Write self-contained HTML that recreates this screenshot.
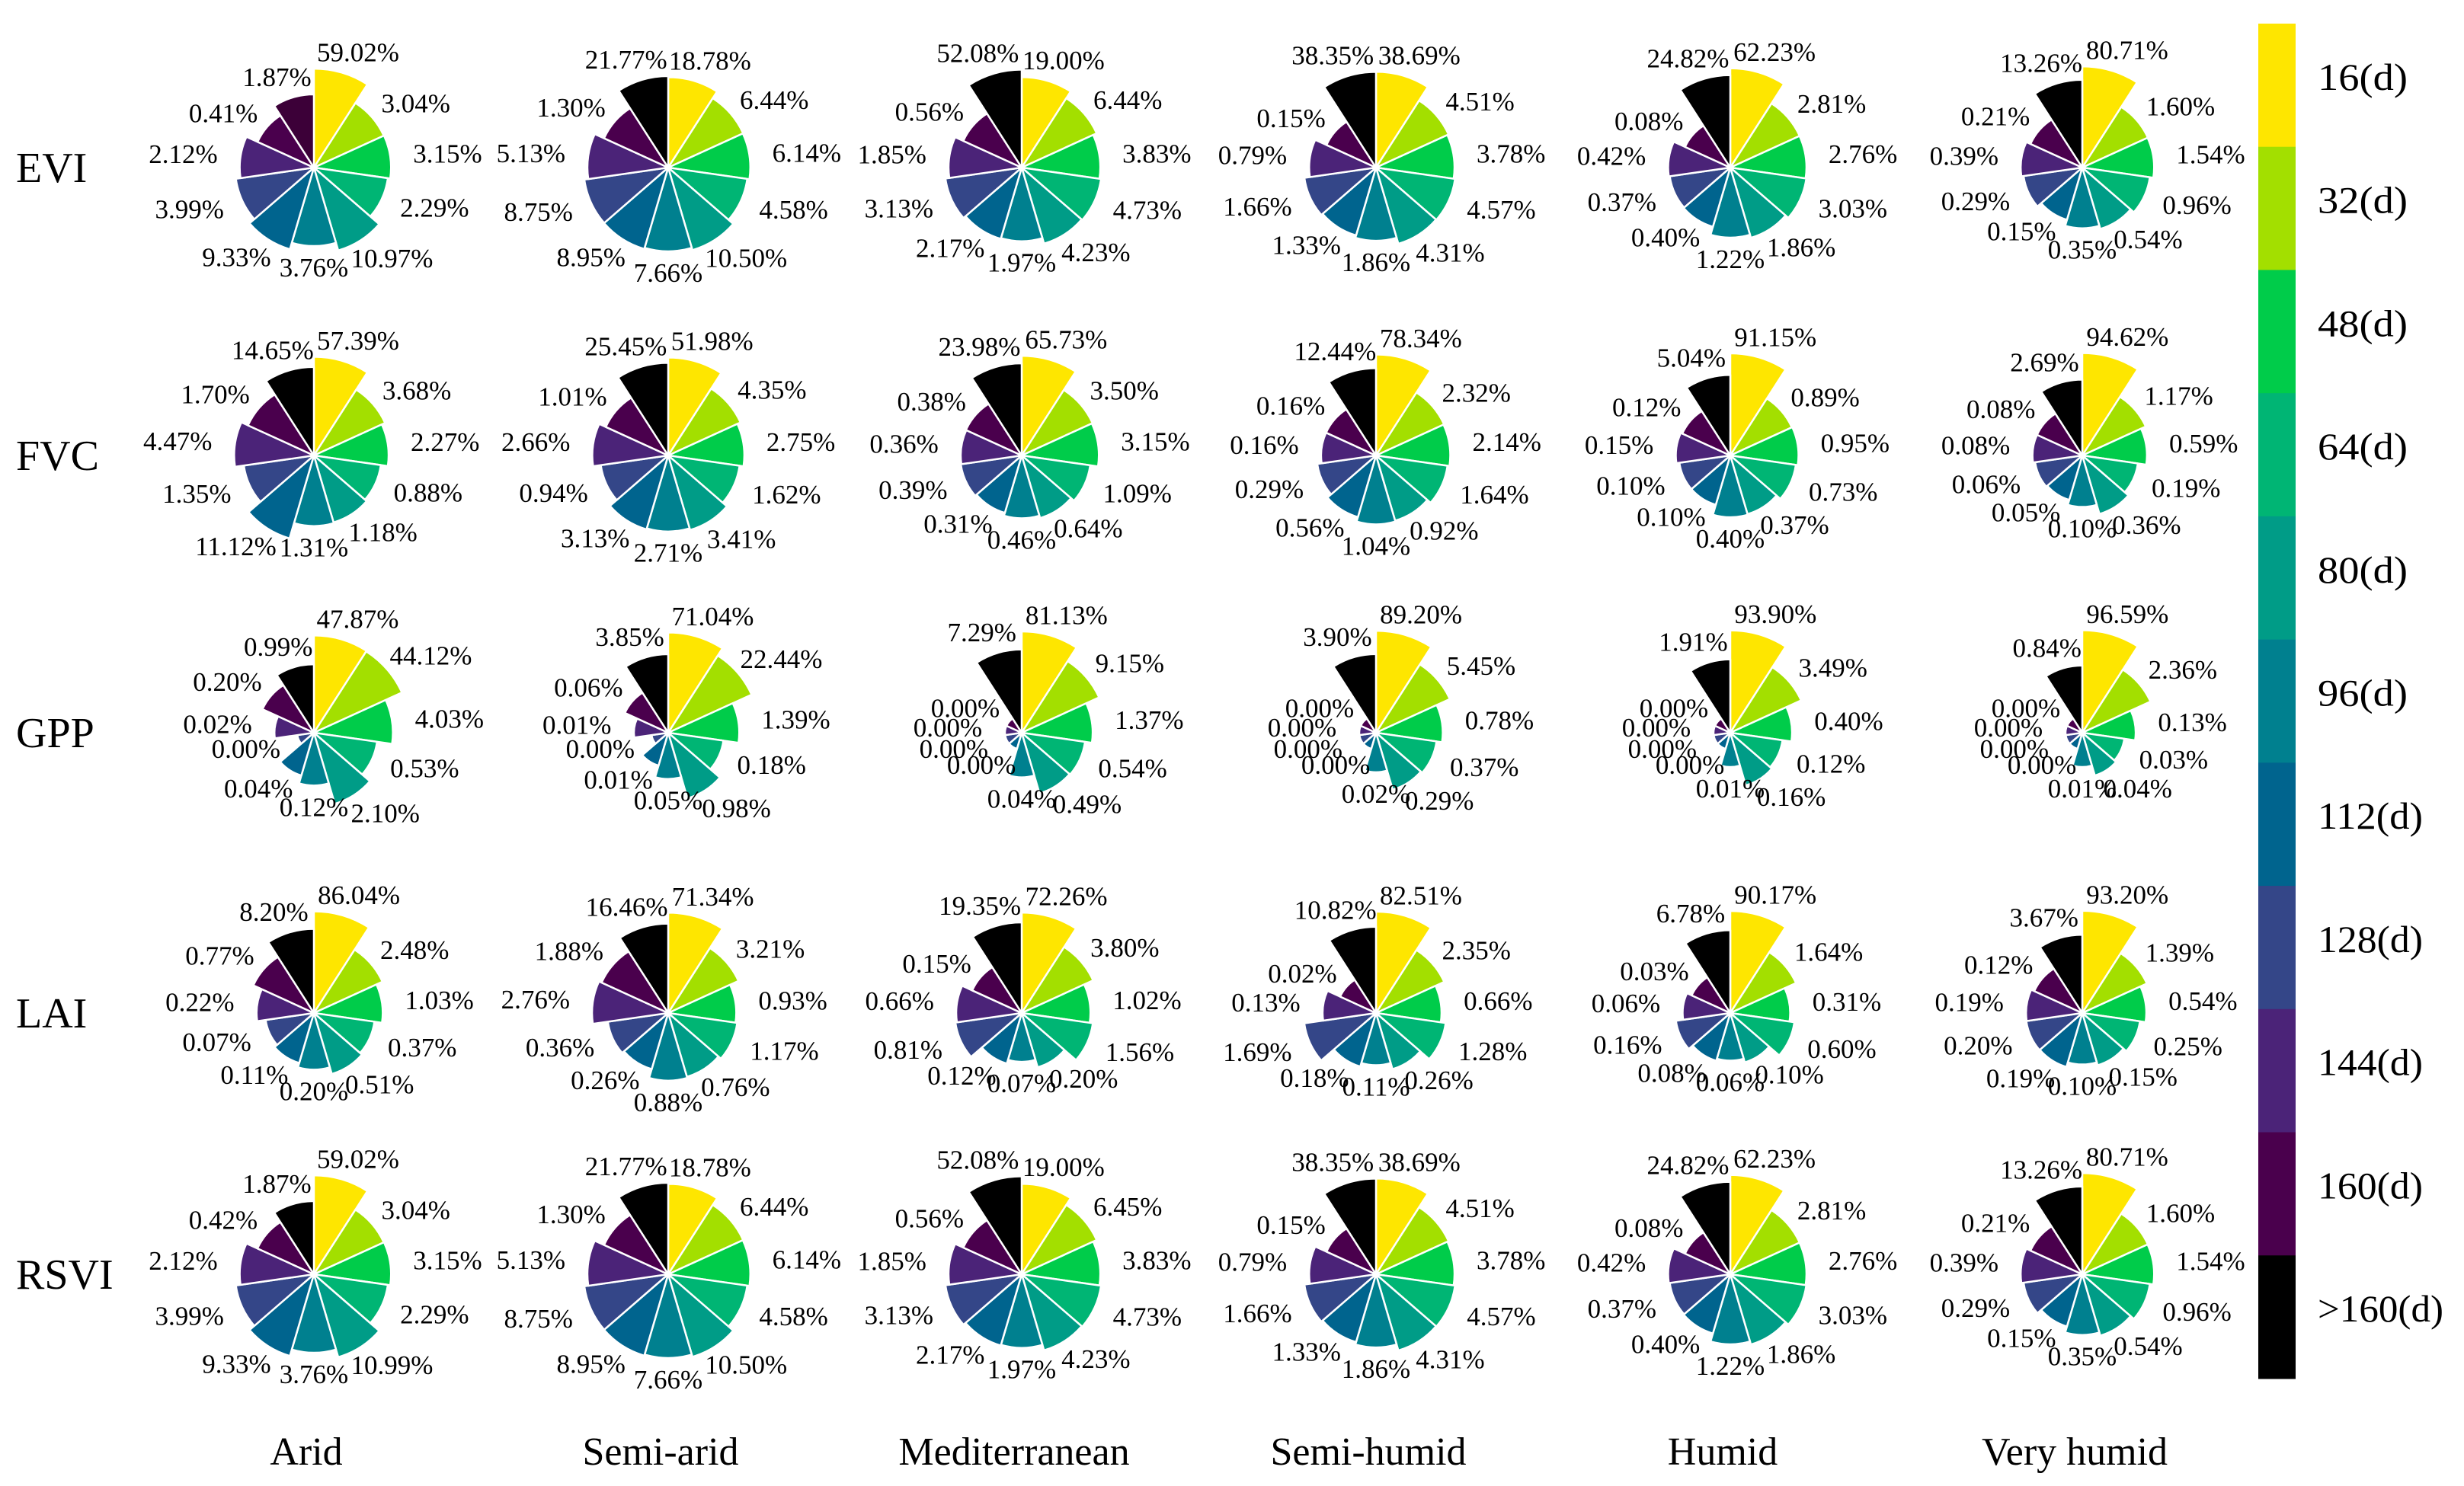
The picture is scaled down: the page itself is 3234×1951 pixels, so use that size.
<!DOCTYPE html>
<html><head><meta charset="utf-8"><style>
html,body{margin:0;padding:0;background:#fff;}
svg{display:block;}
text{font-family:"Liberation Serif",serif;fill:#000;}
</style></head><body>
<svg id="chart" width="3234" height="1951" viewBox="0 0 3234 1951" xmlns="http://www.w3.org/2000/svg"></svg>
<script>
const rowNames = ['EVI','FVC','GPP','LAI','RSVI'];
const colNames = ['Arid','Semi-arid','Mediterranean','Semi-humid','Humid','Very humid'];
const legendLabels = ['16(d)','32(d)','48(d)','64(d)','80(d)','96(d)','112(d)','128(d)','144(d)','160(d)','>160(d)'];
const eviValues = [
 [59.02,3.04,3.15,2.29,10.97,3.76,9.33,3.99,2.12,0.41,1.87],
 [18.78,6.44,6.14,4.58,10.50,7.66,8.95,8.75,5.13,1.30,21.77],
 [19.00,6.44,3.83,4.73,4.23,1.97,2.17,3.13,1.85,0.56,52.08],
 [38.69,4.51,3.78,4.57,4.31,1.86,1.33,1.66,0.79,0.15,38.35],
 [62.23,2.81,2.76,3.03,1.86,1.22,0.40,0.37,0.42,0.08,24.82],
 [80.71,1.60,1.54,0.96,0.54,0.35,0.15,0.29,0.39,0.21,13.26]];
const fvcValues = [
 [57.39,3.68,2.27,0.88,1.18,1.31,11.12,1.35,4.47,1.70,14.65],
 [51.98,4.35,2.75,1.62,3.41,2.71,3.13,0.94,2.66,1.01,25.45],
 [65.73,3.50,3.15,1.09,0.64,0.46,0.31,0.39,0.36,0.38,23.98],
 [78.34,2.32,2.14,1.64,0.92,1.04,0.56,0.29,0.16,0.16,12.44],
 [91.15,0.89,0.95,0.73,0.37,0.40,0.10,0.10,0.15,0.12,5.04],
 [94.62,1.17,0.59,0.19,0.36,0.10,0.05,0.06,0.08,0.08,2.69]];
const gppValues = [
 [47.87,44.12,4.03,0.53,2.10,0.12,0.04,0.00,0.02,0.20,0.99],
 [71.04,22.44,1.39,0.18,0.98,0.05,0.01,0.00,0.01,0.06,3.85],
 [81.13,9.15,1.37,0.54,0.49,0.04,0.00,0.00,0.00,0.00,7.29],
 [89.20,5.45,0.78,0.37,0.29,0.02,0.00,0.00,0.00,0.00,3.90],
 [93.90,3.49,0.40,0.12,0.16,0.01,0.00,0.00,0.00,0.00,1.91],
 [96.59,2.36,0.13,0.03,0.04,0.01,0.00,0.00,0.00,0.00,0.84]];
const laiValues = [
 [86.04,2.48,1.03,0.37,0.51,0.20,0.11,0.07,0.22,0.77,8.20],
 [71.34,3.21,0.93,1.17,0.76,0.88,0.26,0.36,2.76,1.88,16.46],
 [72.26,3.80,1.02,1.56,0.20,0.07,0.12,0.81,0.66,0.15,19.35],
 [82.51,2.35,0.66,1.28,0.26,0.11,0.18,1.69,0.13,0.02,10.82],
 [90.17,1.64,0.31,0.60,0.10,0.06,0.08,0.16,0.06,0.03,6.78],
 [93.20,1.39,0.54,0.25,0.15,0.10,0.19,0.20,0.19,0.12,3.67]];
const rsviValues = [
 [59.02,3.04,3.15,2.29,10.99,3.76,9.33,3.99,2.12,0.42,1.87],
 [18.78,6.44,6.14,4.58,10.50,7.66,8.95,8.75,5.13,1.30,21.77],
 [19.00,6.45,3.83,4.73,4.23,1.97,2.17,3.13,1.85,0.56,52.08],
 [38.69,4.51,3.78,4.57,4.31,1.86,1.33,1.66,0.79,0.15,38.35],
 [62.23,2.81,2.76,3.03,1.86,1.22,0.40,0.37,0.42,0.08,24.82],
 [80.71,1.60,1.54,0.96,0.54,0.35,0.15,0.29,0.39,0.21,13.26]];
const allValues = [eviValues,fvcValues,gppValues,laiValues,rsviValues];
const colors = ['#fee600','#a3df00','#00cc4a','#00b574','#009c87','#00808f','#00648e','#344688','#4b2378','#4a004d','#000000'];

const svg = document.getElementById('chart');
const NS = 'http://www.w3.org/2000/svg';
const colX = [412,877,1341,1806,2271,2733];
const rowY = [220,598,962,1330,1673];
function rScale(v){ return v <= 0 ? 22 : Math.max(18, 90 + 22.5*Math.log10(v)); }
function mk(tag, attrs){ const e = document.createElementNS(NS, tag); for (const k in attrs) e.setAttribute(k, attrs[k]); return e; }
const N = 11, step = 2*Math.PI/N;

rowNames.forEach((rn, ri) => {
  const t = mk('text', {x: 21, y: rowY[ri] + 19, 'font-size': 56});
  t.textContent = rn;
  
  
  svg.appendChild(t);
  colNames.forEach((cn, ci) => {
    const cx = colX[ci], cy = rowY[ri];
    const g = mk('g', {});
    
    
    svg.appendChild(g);
    const vals = allValues[ri][ci];
    vals.forEach((v, i) => {
      const r = rScale(v);
      const a0 = i*step, a1 = (i+1)*step;
      const x0 = cx + r*Math.sin(a0), y0 = cy - r*Math.cos(a0);
      const x1 = cx + r*Math.sin(a1), y1 = cy - r*Math.cos(a1);
      let col = colors[i];
      if (ri === 0 && ci === 0 && i === 10) col = '#3c0038';
      const p = mk('path', {d: `M${cx},${cy} L${x0},${y0} A${r},${r} 0 0 1 ${x1},${y1} Z`, fill: col, stroke: '#fff', 'stroke-width': 2.5, 'stroke-linejoin': 'round'});
      
      
      g.appendChild(p);
      const am = (i+0.5)*step, s = Math.sin(am), c = Math.cos(am);
      const lx = cx + (r+18)*s + 58*s, ly = cy - (r+18)*c - 10*c;
      const lt = mk('text', {x: lx, y: ly + 12, 'font-size': 35, 'text-anchor': 'middle'});
      lt.textContent = v.toFixed(2) + '%';
      
      
      g.appendChild(lt);
    });
  });
});
colNames.forEach((cn, ci) => {
  const t = mk('text', {x: colX[ci] - 10, y: 1923, 'font-size': 52, 'text-anchor': 'middle'});
  t.textContent = cn;
  
  
  svg.appendChild(t);
});
const barTop = 31, barBot = 1810, segH = (barBot - barTop)/N;
legendLabels.forEach((lb, i) => {
  const rc = mk('rect', {x: 2964, y: barTop + i*segH, width: 49, height: segH + 0.5, fill: colors[i]});
  
  
  svg.appendChild(rc);
  const t = mk('text', {x: 3042, y: barTop + (i+0.5)*segH + 6, 'font-size': 50, textLength: 118, lengthAdjust: 'spacingAndGlyphs'});
  if (lb.length === 6) t.setAttribute('textLength', 138);
  if (lb.length === 7) t.setAttribute('textLength', 165);
  t.textContent = lb;
  
  
  svg.appendChild(t);
});
</script>
</body></html>
